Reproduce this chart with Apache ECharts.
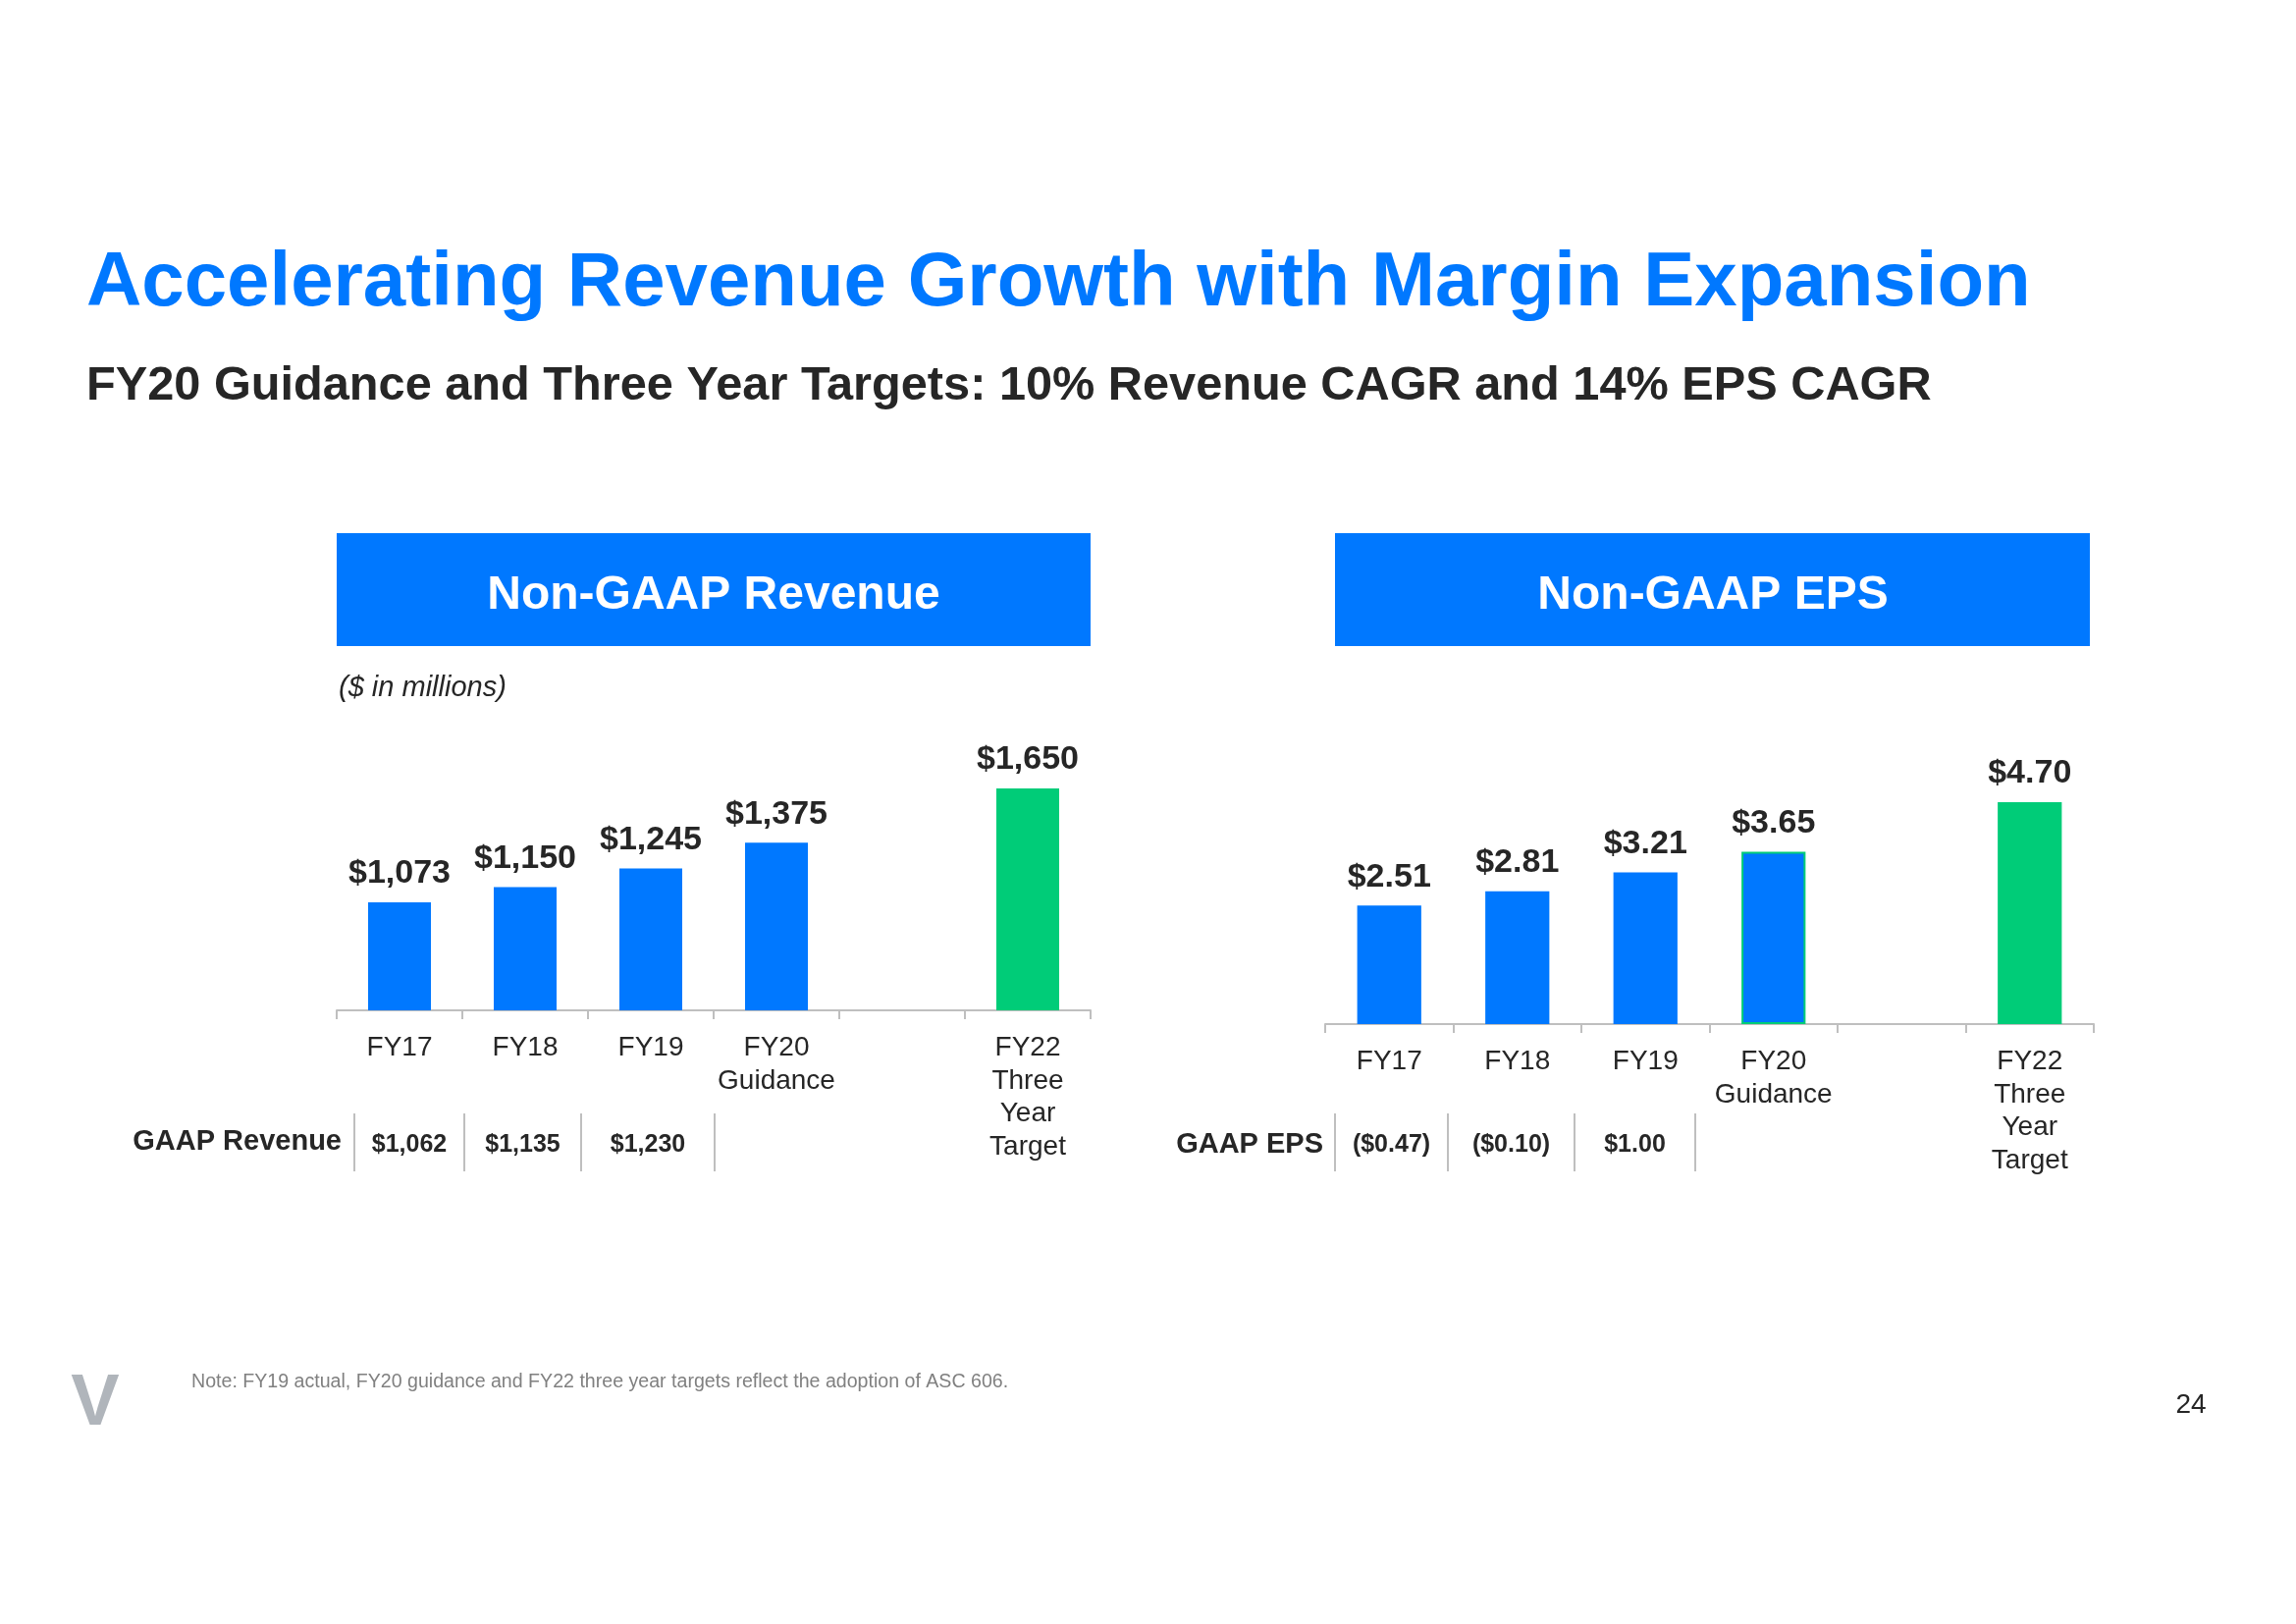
<!DOCTYPE html>
<html><head><meta charset="utf-8">
<script src="https://cdn.jsdelivr.net/npm/echarts@6/dist/echarts.min.js"></script>
<style>html,body{margin:0;padding:0;background:#fff}#c{width:2339px;height:1654px}</style>
</head><body><div id="c"></div>
<script>
// ---- data ----
const categories = ['FY17', 'FY18', 'FY19', 'FY20\nGuidance', '', 'FY22\nThree\nYear\nTarget'];
const revenue = [1073, 1150, 1245, 1375, null, 1650];
const eps = [2.51, 2.81, 3.21, 3.65, null, 4.70];
const gaapRevenue = ['$1,062', '$1,135', '$1,230'];
const gaapEps = ['($0.47)', '($0.10)', '$1.00'];
const targetIndex = 5;

// ---- styles ----
const BLUE = '#0078ff', GREEN = '#00cc78', DARK = '#262626', GRAY = '#bfbfbf';
const FONT = '"Liberation Sans", Arial, sans-serif';

const chart = echarts.init(document.getElementById('c'));

function fmtRev(v) { return '$' + v.toLocaleString('en-US'); }
function fmtEps(v) { return '$' + v.toFixed(2); }

function barData(vals, guidanceBorder) {
  return vals.map((v, i) => {
    if (v === null) return null;
    const item = { value: v, itemStyle: { color: i === targetIndex ? GREEN : BLUE } };
    if (guidanceBorder && i === 3) { item.itemStyle.borderColor = GREEN; item.itemStyle.borderWidth = 2; }
    return item;
  });
}

const xAxisCommon = {
  type: 'category',
  data: categories,
  axisLine: { show: true, lineStyle: { color: GRAY, width: 2 } },
  axisTick: { show: true, length: 9, lineStyle: { color: GRAY, width: 2 } },
  axisLabel: { color: DARK, fontFamily: FONT, fontSize: 28, lineHeight: 33.5, margin: 22, interval: 0 }
};

const labelCommon = {
  show: true, position: 'top', distance: 12,
  color: DARK, fontFamily: FONT, fontWeight: 'bold', fontSize: 34, lineHeight: 34
};

chart.setOption({
  animation: false,
  grid: [
    { left: 343, top: 788, width: 768, height: 241 },
    { left: 1350, top: 802.5, width: 783, height: 240.5 }
  ],
  xAxis: [
    Object.assign({ gridIndex: 0 }, xAxisCommon),
    Object.assign({ gridIndex: 1 }, xAxisCommon)
  ],
  yAxis: [
    { gridIndex: 0, type: 'value', min: 525, max: 1725, show: false, splitLine: { show: false } },
    { gridIndex: 1, type: 'value', min: 0, max: 5, show: false, splitLine: { show: false } }
  ],
  series: [
    { type: 'bar', xAxisIndex: 0, yAxisIndex: 0, barWidth: '50%', data: barData(revenue, false),
      label: Object.assign({ formatter: p => fmtRev(p.value) }, labelCommon) },
    { type: 'bar', xAxisIndex: 1, yAxisIndex: 1, barWidth: '50%', data: barData(eps, true),
      label: Object.assign({ formatter: p => fmtEps(p.value) }, labelCommon) }
  ]
});

// ---- text, header boxes and GAAP rows ----
const g = [];
function txt(x, y, text, font, fill, align) {
  g.push({ type: 'text', x: x, y: y, silent: true,
    style: { text: text, font: font, fill: fill, textAlign: align || 'left', textVerticalAlign: 'middle' } });
}
function vline(x, y1, y2) {
  g.push({ type: 'line', silent: true, shape: { x1: x, y1: y1, x2: x, y2: y2 }, style: { stroke: GRAY, lineWidth: 2 } });
}

txt(88, 289, 'Accelerating Revenue Growth with Margin Expansion', 'bold 78px ' + FONT, BLUE);
txt(88, 394, 'FY20 Guidance and Three Year Targets: 10% Revenue CAGR and 14% EPS CAGR', 'bold 48.7px ' + FONT, DARK);

g.push({ type: 'rect', silent: true, shape: { x: 343, y: 543, width: 768, height: 115 }, style: { fill: BLUE } });
g.push({ type: 'rect', silent: true, shape: { x: 1360, y: 543, width: 769, height: 115 }, style: { fill: BLUE } });
txt(727, 607, 'Non-GAAP Revenue', 'bold 48px ' + FONT, '#ffffff', 'center');
txt(1745, 607, 'Non-GAAP EPS', 'bold 48px ' + FONT, '#ffffff', 'center');
txt(345, 701, '($ in millions)', 'italic 29px ' + FONT, DARK);

// GAAP rows (table cells between separators)
const revSeps = [361, 473, 592, 728];
const epsSeps = [1360, 1475, 1604, 1727];
txt(348, 1163, 'GAAP Revenue', 'bold 29px ' + FONT, DARK, 'right');
txt(1348, 1166, 'GAAP EPS', 'bold 29px ' + FONT, DARK, 'right');
revSeps.forEach(x => vline(x, 1134, 1193));
epsSeps.forEach(x => vline(x, 1134, 1193));
gaapRevenue.forEach((t, i) => {
  txt((revSeps[i] + revSeps[i + 1]) / 2, 1166, t, 'bold 25px ' + FONT, DARK, 'center');
});
gaapEps.forEach((t, i) => {
  txt((epsSeps[i] + epsSeps[i + 1]) / 2, 1166, t, 'bold 25px ' + FONT, DARK, 'center');
});

// footer
txt(97, 1431, 'V', 'bold 74px ' + FONT, '#b0b5bb', 'center');
txt(195, 1408, 'Note: FY19 actual, FY20 guidance and FY22 three year targets reflect the adoption of ASC 606.', '19.6px ' + FONT, '#808080');
txt(2232, 1431, '24', '28px ' + FONT, DARK, 'center');

chart.setOption({ graphic: { elements: g } });
</script>
</body></html>
